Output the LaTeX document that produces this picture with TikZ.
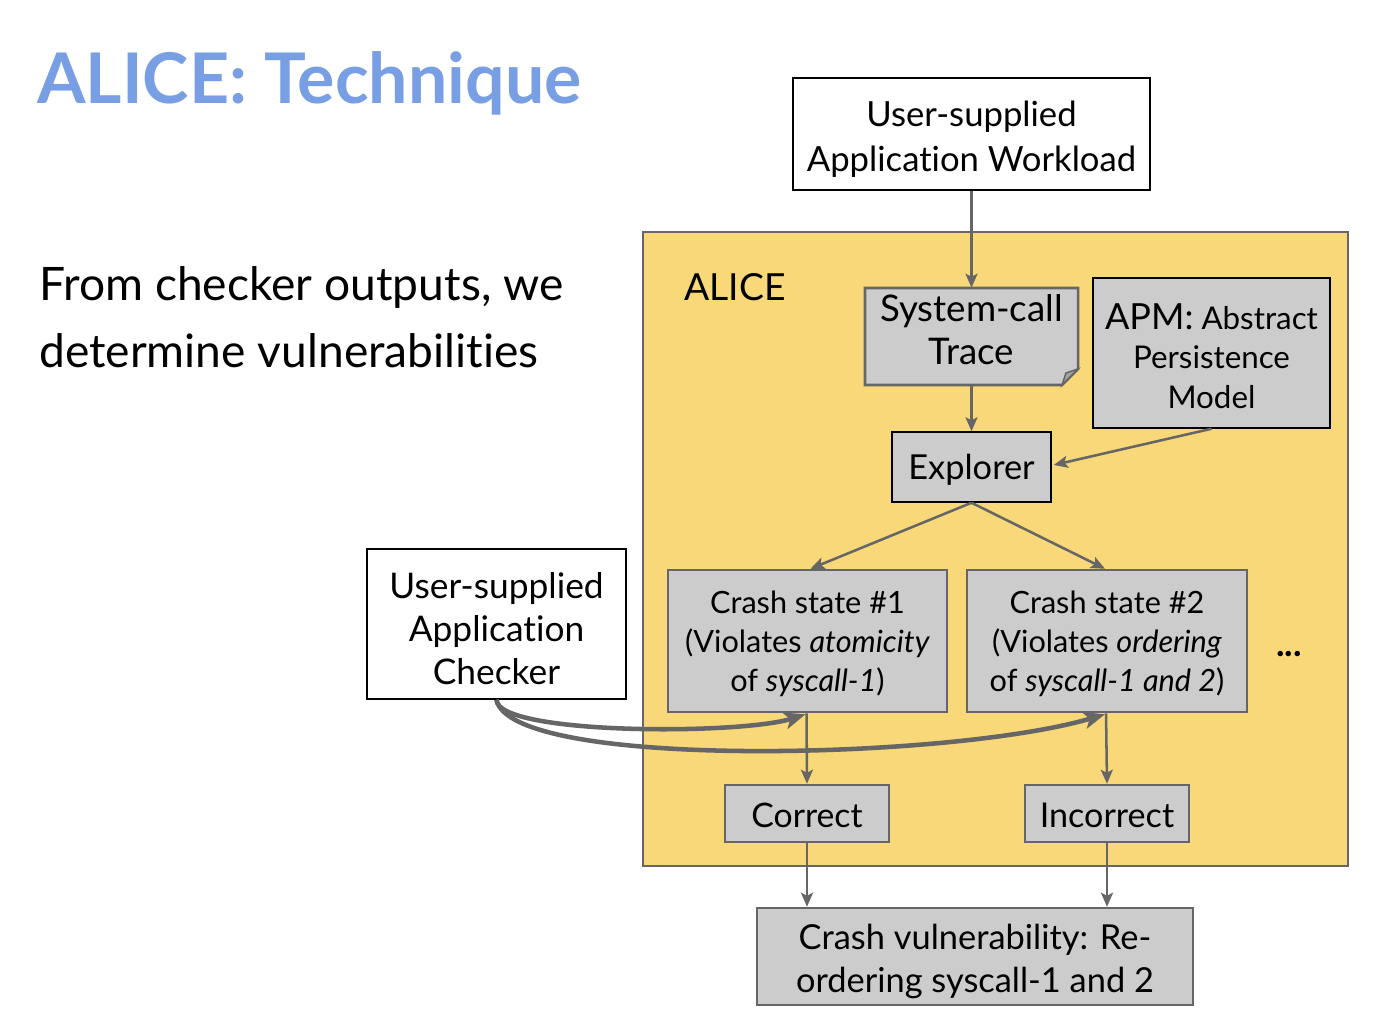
\documentclass[tikz,border=0pt]{standalone}
\usepackage{fontspec}
\setmainfont{Lato}[Ligatures=NoCommon]
\usetikzlibrary{arrows.meta,calc}
\newdimen\px \px=0.75pt
\definecolor{titleblue}{RGB}{120,159,228}
\definecolor{alicefill}{RGB}{248,216,120}
\definecolor{boxgray}{RGB}{204,204,204}
\definecolor{edgegray}{RGB}{102,102,102}
\newcommand{\fs}[2]{\fontsize{#1}{#2}\selectfont}
\begin{document}
\begin{tikzpicture}[x=1\px,y=-1\px,
  whitebox/.style={draw=black,line width=1.1pt,fill=white,inner sep=0pt},
  graybox/.style={draw=edgegray,line width=1.9pt,fill=boxgray,inner sep=0pt},
  darkbox/.style={draw=black,line width=1.1pt,fill=boxgray,inner sep=0pt},
  txt/.style={inner sep=0pt,align=center},
  flow/.style={draw=edgegray,line width=1.9pt,-{Stealth[length=10.5pt,width=9pt,inset=2.25pt]}},
  bigflow/.style={draw=edgegray,line width=3.4pt,-{Stealth[length=16pt,width=12.75pt,inset=4pt]}},
  big/.style={font=\fs{26}{33}},
  small/.style={font=\fs{23}{29.25}}]
\useasboundingbox (0,0) rectangle (1376,1022);
\fill[white] (0,0) rectangle (1376,1022);

% title and explanation
\node[anchor=base west,inner sep=0pt,text=titleblue,font=\fs{52.4}{60}\bfseries] (title) at (37,103) {ALICE: Technique};
\node[anchor=base west,inner sep=0pt,font=\fs{34.6}{50}] (text1) at (39,300) {From checker outputs, we};
\node[anchor=base west,inner sep=0pt,font=\fs{34.6}{50}] (text2) at (39,367) {determine vulnerabilities};

% the ALICE tool boundary
\node[draw=edgegray,line width=1.9pt,fill=alicefill,inner sep=0pt,minimum width=705\px,minimum height=634\px] (alice) at (995.5,549) {};
\node[anchor=base west,inner sep=0pt,font=\fs{28}{34}] (alicelbl) at (684,300) {ALICE};

% workload input
\node[whitebox,minimum width=357\px,minimum height=112\px] (work) at (971.5,134) {};
\node[txt,font=\fs{26}{33.75}] (workT) at ($(work)+(0,5)$) {User-supplied\\Application Workload};

% system-call trace with folded corner
\filldraw[draw=edgegray,line width=1.9pt,fill=boxgray] (865,288) -- (1078,288) -- (1078,369) -- (1062,385) -- (865,385) -- cycle;
\filldraw[draw=edgegray,line width=1.1pt,fill=edgegray!60] (1062,385) -- (1066,373) -- (1078,369) -- cycle;
\node[inner sep=0pt,minimum width=213\px,minimum height=97\px] (trace) at (971.5,336.5) {};
\node[txt,font=\fs{27.5}{32.25}] (traceT) at ($(trace)+(0,-7)$) {System-call\\Trace};

% persistence model
\node[darkbox,minimum width=237\px,minimum height=150\px] (apm) at (1211.5,353) {};
\node[txt,font=\fs{23.5}{29.5}] (apmT) at ($(apm)+(0,3)$) {{\fs{27}{29.5}APM:} Abstract\\Persistence\\Model};

% explorer
\node[darkbox,minimum width=159\px,minimum height=70\px] (expl) at (971.5,467) {};
\node[txt,font=\fs{25.8}{32}] (explT) at ($(expl)+(0,3)$) {Explorer};

% crash states
\node[graybox,minimum width=279\px,minimum height=142\px] (cs1) at (807.5,641) {};
\node[txt,small] (cs1T) at ($(cs1)+(0,3)$) {Crash state \#1\\(Violates \textit{atomicity}\\of \textit{syscall-1})};
\node[graybox,minimum width=280\px,minimum height=142\px] (cs2) at (1107,641) {};
\node[txt,small] (cs2T) at ($(cs2)+(0,3)$) {Crash state \#2\\(Violates \textit{ordering}\\of \textit{syscall-1 and 2})};
\node[inner sep=0pt,font=\fs{27}{30}\bfseries] (dots) at (1289,654) {...};

% checker input
\node[whitebox,minimum width=259\px,minimum height=150\px] (chk) at (496.5,624) {};
\node[txt,font=\fs{26.5}{32.25}] (chkT) at ($(chk)+(0,5)$) {User-supplied\\Application\\Checker};

% checker outcomes
\node[graybox,minimum width=164\px,minimum height=57\px] (ok) at (807,813.5) {};
\node[txt,font=\fs{25.3}{32}] (okT) at ($(ok)+(0,2)$) {Correct};
\node[graybox,minimum width=164\px,minimum height=57\px] (bad) at (1107,813.5) {};
\node[txt,font=\fs{25.6}{32}] (badT) at ($(bad)+(0,2)$) {Incorrect};

% result
\node[graybox,minimum width=436\px,minimum height=97\px] (vuln) at (975,956.5) {};
\node[txt,font=\fs{25.8}{32.25}] (vulnT) at ($(vuln)+(0,5)$) {Crash vulnerability: Re-\\ordering syscall-1 and 2};

% connectors
\draw[flow] (work.south) -- (trace.north);
\draw[flow] (trace.south) -- (expl.north);
\draw[flow] (apm.south) -- ($(expl.east)+(2,-2)$);
\draw[flow] (expl.south) -- ($(cs1.north)+(3,0)$);
\draw[flow] (expl.south) -- ($(cs2.north)+(-2,0)$);
\draw[flow] ($(cs1.south)+(-1,0)$) -- (ok.north);
\draw[flow] ($(cs2.south)+(-1,0)$) -- (bad.north);
\draw[flow] (ok.south) -- (ok.south |- vuln.north);
\draw[flow] (bad.south) -- (bad.south |- vuln.north);

\draw[bigflow] (chk.south) .. controls (497,735) and (740,735) .. ($(cs1.south)+(-2,1)$);
\draw[bigflow] (chk.south) .. controls (510,770) and (950,760) .. ($(cs2.south)+(-2,1)$);
\end{tikzpicture}
\end{document}
